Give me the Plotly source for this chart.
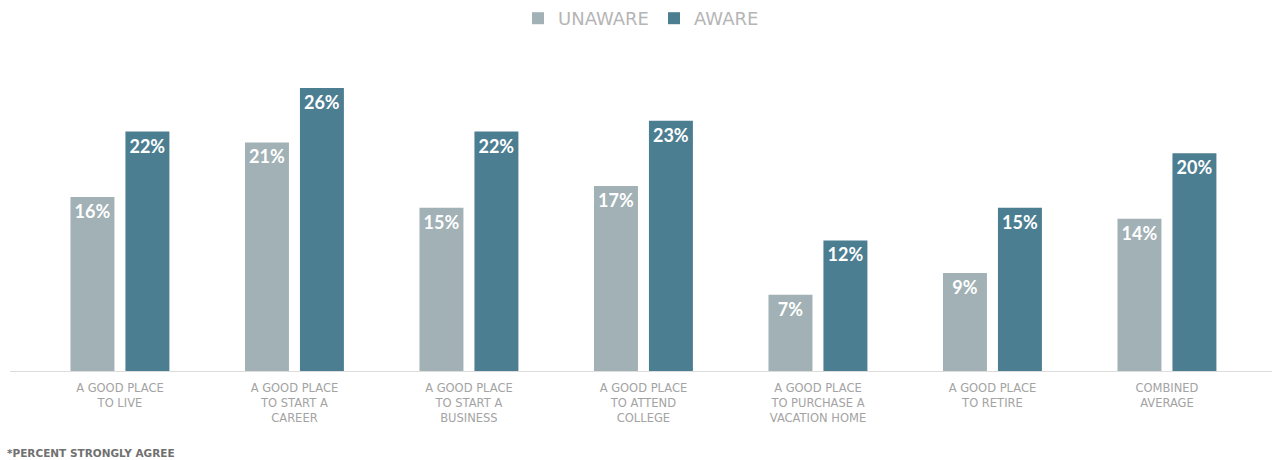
import plotly.graph_objects as go

categories = [
    "A GOOD PLACE<br>TO LIVE",
    "A GOOD PLACE<br>TO START A<br>CAREER",
    "A GOOD PLACE<br>TO START A<br>BUSINESS",
    "A GOOD PLACE<br>TO ATTEND<br>COLLEGE",
    "A GOOD PLACE<br>TO PURCHASE A<br>VACATION HOME",
    "A GOOD PLACE<br>TO RETIRE",
    "COMBINED<br>AVERAGE",
]
unaware = [16, 21, 15, 17, 7, 9, 14]
aware = [22, 26, 22, 23, 12, 15, 20]

FONT = "Lato"
fig = go.Figure()
fig.add_trace(go.Bar(
    x=categories, y=unaware, name="UNAWARE",
    marker=dict(color="#A1B1B5", line=dict(width=0)),
    text=[f"{v}%" for v in unaware], textposition="inside",
    insidetextanchor="end", textangle=0,
    textfont=dict(color="white", size=18, family=FONT, weight="bold"),
))
fig.add_trace(go.Bar(
    x=categories, y=aware, name="AWARE",
    marker=dict(color="#4C7E92", line=dict(width=0)),
    text=[f"{v}%" for v in aware], textposition="inside",
    insidetextanchor="end", textangle=0,
    textfont=dict(color="white", size=18, family=FONT, weight="bold"),
))

fig.update_layout(
    width=1274, height=460,
    margin=dict(l=10, r=2, t=50, b=89),
    paper_bgcolor="white", plot_bgcolor="white",
    barmode="group", bargap=0.37, bargroupgap=0.2,
    font=dict(family=FONT, color="#9a9a9a"),
    legend=dict(orientation="h", x=0.5, xanchor="center", y=1.0, yanchor="top",
                yref="container", font=dict(size=18, color="#b5b5b5", family="DejaVu Sans"),
                traceorder="normal"),
    showlegend=True,
    xaxis=dict(range=[-0.63, 6.602], showline=True, linecolor="#dddddd", linewidth=1,
               showgrid=False, ticks="", ticklabelstandoff=6,
               tickfont=dict(size=11.5, color="#a3a3a3", family="DejaVu Sans"),
               fixedrange=True),
    yaxis=dict(range=[0, 29.5], visible=False, fixedrange=True),
)
fig.add_annotation(text="*PERCENT STRONGLY AGREE", xref="paper", yref="paper",
                   x=-0.004, y=-0.255, xanchor="left", yanchor="middle", showarrow=False,
                   font=dict(size=10.5, color="#707070", family="DejaVu Sans", weight="bold"))
fig.write_html("out.html", config={"displayModeBar": False},
               post_script="document.body.style.margin='0';document.body.style.overflow='hidden';")
